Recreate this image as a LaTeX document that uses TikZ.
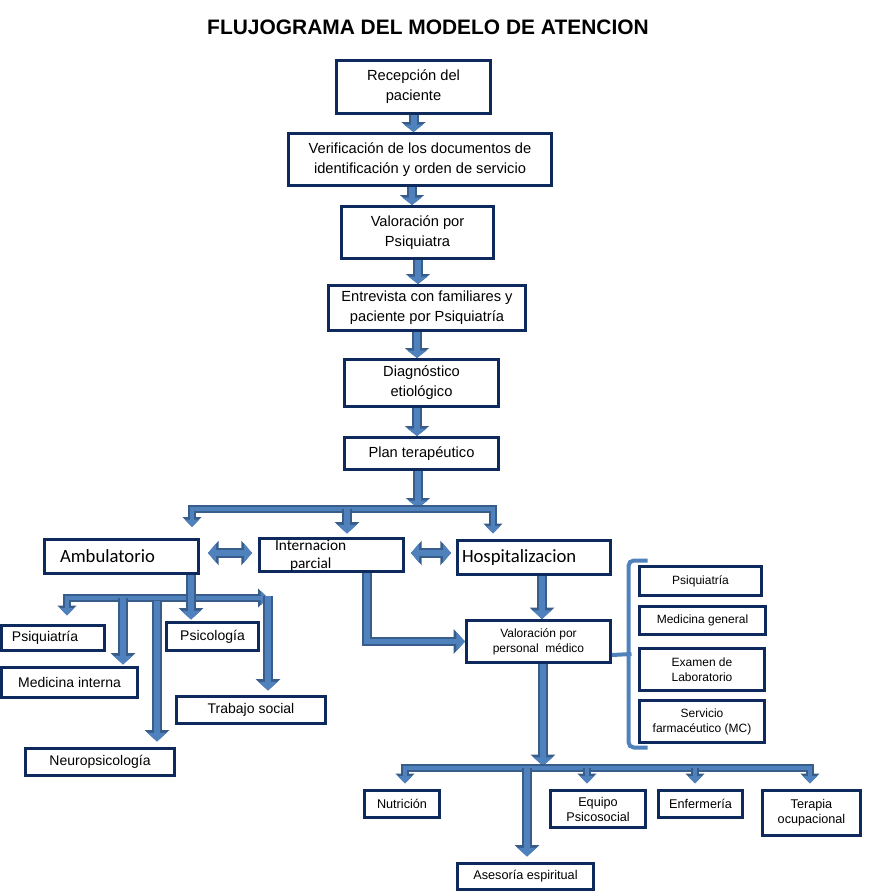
\documentclass[tikz,border=0pt]{standalone}
\usepackage{fontspec}
\setmainfont{Liberation Sans}
\newfontfamily\calibri{Carlito}
\usepackage{tikz}
\usetikzlibrary{arrows.meta,calc}

\newlength{\pix}\setlength{\pix}{0.75pt}
\newcommand{\fgrande}{\fontsize{11}{15}\selectfont}
\newcommand{\fmedia}{\fontsize{10.5}{14}\selectfont}
\newcommand{\fchica}{\fontsize{9}{11.25}\selectfont}
\newcommand{\fpie}{\fontsize{9.5}{11.25}\selectfont}
\newcommand{\fcal}{\calibri\fontsize{14}{16}\selectfont}
\newcommand{\fcalint}{\calibri\fontsize{11.5}{13.5}\selectfont}

\definecolor{azulcaja}{HTML}{0E2A5C}
\definecolor{azulflecha}{HTML}{4F81BD}
\definecolor{bordeflecha}{HTML}{385D8A}

\begin{document}
\begin{tikzpicture}[x=0.75pt, y=-0.75pt,
  caja/.style={draw=azulcaja, line width=2.25pt, fill=white, inner sep=0pt, align=center},
  flecha/.style={draw=azulflecha, line width=4.3pt,
    -{Triangle[length=6.5pt,width=14pt]},
    preaction={draw=bordeflecha, line width=7.3pt, -{Triangle[length=8.5pt,width=18pt]}}},
  ramal/.style={draw=azulflecha, line width=3pt,
    -{Triangle[length=5.5pt,width=10pt]},
    preaction={draw=bordeflecha, line width=5.3pt, -{Triangle[length=7.5pt,width=14pt]}}},
  corta/.style={draw=azulflecha, line width=4.5pt,
    -{Triangle[length=5.5pt,width=14pt]},
    preaction={draw=bordeflecha, line width=7.5pt, -{Triangle[length=7.5pt,width=18pt]}}},
  doble/.style={draw=azulflecha, line width=5pt,
    {Triangle[length=6pt,width=14pt]}-{Triangle[length=6pt,width=14pt]},
    preaction={draw=bordeflecha, line width=7.5pt,
      {Triangle[length=8pt,width=18pt]}-{Triangle[length=8pt,width=18pt]}}},
  llave/.style={draw=azulflecha, line width=3pt, rounded corners=4pt}]
\useasboundingbox (0,0) rectangle (868,892);

% titulo
\node[font=\bfseries\fontsize{15.7}{18}\selectfont] (titulo) at (428,27) {FLUJOGRAMA DEL MODELO DE ATENCION};

% cadena principal
\node[caja, font=\fgrande, minimum width=154\pix, minimum height=53\pix] (rec) at (413.5,87) {Recepción del\\paciente};
\node[caja, font=\fgrande, minimum width=263\pix, minimum height=52\pix] (ver) at (420,159.5) {Verificación de los documentos de\\identificación y orden de servicio};
\node[caja, font=\fgrande, minimum width=152\pix, minimum height=52\pix] (val) at (417.5,232.5) {Valoración por\\Psiquiatra};
\node[caja, font=\fgrande, minimum width=197\pix, minimum height=45\pix] (ent) at (427,308) {Entrevista con familiares y\\paciente por Psiquiatría};
\node[caja, font=\fgrande, minimum width=154\pix, minimum height=47\pix] (diag) at (421.5,383) {Diagnóstico\\etiológico};
\node[caja, font=\fgrande, minimum width=154\pix, minimum height=32\pix] (plan) at (421.5,453.5) {Plan terapéutico};

\draw[corta] (rec.south) -- (rec.south |- ver.north);
\draw[corta] ($(ver.south)+(-8,0)$) -- ($(val.north)+(-5.5,0)$);
\draw[corta] ($(val.south)+(0.5,0)$) -- ($(ent.north)+(-9,0)$);
\draw[corta] ($(ent.south)+(-10,0)$) -- ($(diag.north)+(-4.5,0)$);
\draw[corta] ($(diag.south)+(-4.5,0)$) -- ($(plan.north)+(-4.5,0)$);

% modalidades
\node[caja, font=\fcal, text width=123\pix, align=left, minimum width=154\pix, minimum height=34\pix] (amb) at (121.5,556.5) {Ambulatorio};
\node[caja, font=\fcalint, text width=113\pix, align=left, minimum width=144\pix, minimum height=33\pix] (int) at (331.5,555) {Internacion\\\hspace*{15\pix}parcial};
\node[caja, font=\fcal, text width=144\pix, align=left, minimum width=153\pix, minimum height=34\pix] (hosp) at (534,557.5) {Hospitalizacion};

\coordinate (barra) at (418,509);
\coordinate (pAmb) at ($(amb.north east)+(-8,-11)$);
\coordinate (pInt) at ($(int.north)+(15.5,-3.5)$);
\coordinate (pHosp) at ($(hosp.north)+(-41,-5.5)$);
\draw[corta] ($(plan.south)+(-3.5,0)$) -- ($(barra)+(0,-1)$);
\draw[ramal] (barra) -| (pAmb);
\draw[ramal] (barra) -| (pHosp);
\draw[flecha] (pInt |- barra) -- (pInt);
\draw[doble] ($(amb.east)+(8,-3.5)$) -- ($(int.west)+(-6,-2)$);
\draw[doble] ($(int.east)+(6,-2)$) -- ($(hosp.west)+(-5,-4.5)$);

% ambulatorio
\node[caja, font=\fmedia, text width=82\pix, align=left, minimum width=103\pix, minimum height=25\pix] (lpsq) at (53,638) {Psiquiatría};
\node[caja, font=\fmedia, minimum width=136\pix, minimum height=30\pix] (lmed) at (69.5,682.5) {Medicina interna};
\node[caja, font=\fmedia, minimum width=92\pix, minimum height=28\pix] (lpsi) at (212.5,636.5) {Psicología};
\node[caja, font=\fmedia, minimum width=149\pix, minimum height=27\pix] (ltra) at (251,710) {Trabajo social};
\node[caja, font=\fmedia, minimum width=149\pix, minimum height=27\pix] (lneu) at (100,762) {Neuropsicología};

\coordinate (barraAmb) at (191,598);
\coordinate (pLpsq) at ($(lpsq.north)+(14,-8.5)$);
\coordinate (pLmed) at ($(lmed.north)+(53.5,-1.5)$);
\coordinate (pLpsi) at ($(lpsi.north)+(-21.5,-1.5)$);
\coordinate (pLtra) at ($(ltra.north)+(17,-4.5)$);
\coordinate (pLneu) at ($(lneu.north)+(57,-5.5)$);
\draw[ramal] (barraAmb) -| (pLpsq);
\draw[ramal] (barraAmb) -- (pLtra |- barraAmb);
\draw[flecha] ($(pLtra |- barraAmb)+(0,-2)$) -- (pLtra);
\draw[flecha] (pLmed |- barraAmb) -- (pLmed);
\draw[flecha] ($(pLneu |- barraAmb)+(0,3)$) -- (pLneu);
\draw[flecha] (pLpsi |- amb.south) -- (pLpsi);

% hospitalizacion
\node[caja, font=\fchica, minimum width=144\pix, minimum height=42\pix] (vpm) at (538.5,641.5) {Valoración por\\personal\ \ médico};
\draw[flecha] ($(hosp.south)+(8,0)$) -- ($(vpm.north)+(3.5,0)$);
\draw[flecha] ($(int.south)+(35.5,0)$) |- (vpm.west);

\node[caja, font=\fchica, minimum width=122\pix, minimum height=29\pix] (rpsq) at (700.5,581) {Psiquiatría};
\node[caja, font=\fchica, minimum width=126\pix, minimum height=28\pix] (rmed) at (702.5,620.5) {Medicina general};
\node[caja, font=\fchica, minimum width=125\pix, minimum height=42\pix] (rlab) at (702,669.5) {Examen de\\Laboratorio};
\node[caja, font=\fchica, minimum width=125\pix, minimum height=42\pix] (rfar) at (702,721.5) {Servicio\\farmacéutico (MC)};

\coordinate (llaveA) at ($(rpsq.north west)+(9.5,-4.5)$);
\coordinate (llaveB) at ($(rfar.south west)+(9.5,3.5)$);
\draw[llave] (llaveA) -- ++(-19,0) -- ($(llaveB)+(-19,0)$) -- (llaveB);
\draw[llave, rounded corners=0pt] ($(vpm.south east)+(0,-9)$) -- ($(vpm.south east)+(19.5,-10)$);

% servicios de apoyo
\node[caja, font=\fpie, minimum width=75\pix, minimum height=27\pix] (nut) at (402,804) {Nutrición};
\node[caja, font=\fpie, minimum width=95\pix, minimum height=37\pix] (equ) at (598,809) {Equipo\\Psicosocial};
\node[caja, font=\fpie, minimum width=84\pix, minimum height=27\pix] (enf) at (700.5,804) {Enfermería};
\node[caja, font=\fpie, minimum width=98\pix, minimum height=45\pix] (ter) at (811.5,813) {Terapia\\ocupacional};
\node[caja, font=\fpie, minimum width=136\pix, minimum height=26\pix] (ase) at (525.5,876.5) {Asesoría espiritual};

\coordinate (barraInf) at (543,768);
\coordinate (pNut) at ($(nut.north)+(3,-5.5)$);
\coordinate (pAse) at ($(ase.north)+(1.5,-5.5)$);
\coordinate (pEqu) at ($(equ.north)+(-11,-5.5)$);
\coordinate (pEnf) at ($(enf.north)+(-5.5,-5.5)$);
\coordinate (pTer) at ($(ter.north)+(-1.5,-5.5)$);
\draw[flecha] ($(vpm.south)+(4.5,0)$) -- ($(barraInf)+(0,-2)$);
\draw[ramal] (barraInf) -| (pNut);
\draw[ramal] (barraInf) -| (pTer);
\draw[flecha] (pAse |- barraInf) -- (pAse);
\draw[ramal] (pEqu |- barraInf) -- (pEqu);
\draw[ramal] (pEnf |- barraInf) -- (pEnf);
\end{tikzpicture}
\end{document}
